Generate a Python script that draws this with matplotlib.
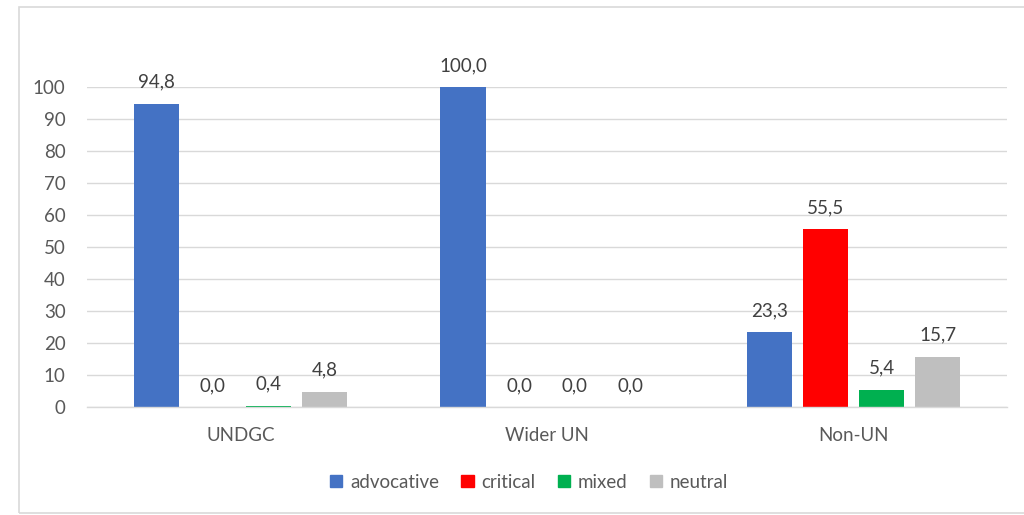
import matplotlib
matplotlib.use("Agg")
import matplotlib.pyplot as plt
from matplotlib.patches import Patch, Rectangle
import numpy as np

categories = ["UNDGC", "Wider UN", "Non-UN"]
series_names = ["advocative", "critical", "mixed", "neutral"]
advocative = [94.8, 100.0, 23.3]
critical = [0.0, 0.0, 55.5]
mixed = [0.4, 0.0, 5.4]
neutral = [4.8, 0.0, 15.7]
colors = ["#4472C4", "#FF0000", "#00B050", "#BFBFBF"]
yticks = list(range(0, 101, 10))

plt.rcParams['font.family'] = ['Lato', 'DejaVu Sans']
txt = "#595959"
fs = 13.5

fig = plt.figure(figsize=(10.24, 5.15), dpi=100)
ax = fig.add_axes([87/1024, 1-407/515, 920/1024, 320/515])

values = [advocative, critical, mixed, neutral]
x = np.arange(len(categories))
slot = 0.1826
width = 0.147
for i, (name, vals, col) in enumerate(zip(series_names, values, colors)):
    pos = x + (i - 1.5) * slot
    ax.bar(pos, vals, width=width, color=col, label=name, zorder=3)
    for p, v in zip(pos, vals):
        ax.annotate(f"{v:.1f}".replace(".", ","), (p, v), xytext=(0, 11.5),
                    textcoords="offset points", ha="center", va="baseline",
                    fontsize=fs, color="#404040", annotation_clip=False)

ax.set_xlim(-0.5, 2.5)
ax.set_ylim(0, 100)
ax.set_yticks(yticks)
ax.set_yticklabels([str(t) for t in yticks])
ax.set_xticks(x)
ax.set_xticklabels(categories)
ax.tick_params(axis="both", length=0, colors=txt, labelsize=fs)
ax.tick_params(axis="y", pad=15.5)
ax.tick_params(axis="x", pad=14.5)
ax.grid(axis="y", color="#D9D9D9", linewidth=1, zorder=0)
for s in ["top", "right", "left"]:
    ax.spines[s].set_visible(False)
ax.spines["bottom"].set_color("#D9D9D9")
ax.spines["bottom"].set_linewidth(1)
ax.spines["bottom"].set_zorder(4)

handles = [Patch(facecolor=c, edgecolor=c, label=n) for n, c in zip(series_names, colors)]
leg = fig.legend(handles=handles, loc="center", bbox_to_anchor=(529/1024, 1-482/515),
                 ncol=4, frameon=False, fontsize=fs, handlelength=0.65, handleheight=0.65,
                 handletextpad=0.4, columnspacing=1.2, borderpad=0)
for t in leg.get_texts():
    t.set_color(txt)

fig.patches.append(Rectangle((19/1024, 2/515), 1.1, 1-9/515, transform=fig.transFigure,
                             fill=False, edgecolor="#D9D9D9", linewidth=1.2))

fig.savefig("out.png", dpi=100)
